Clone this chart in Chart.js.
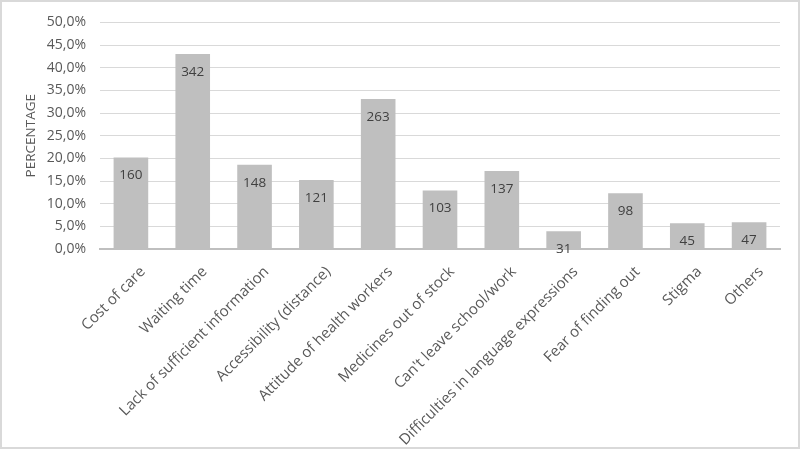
<!DOCTYPE html>
<html lang="en">
<head>
  <meta charset="UTF-8" />
  <title>Reasons</title>
  <script src="https://cdn.jsdelivr.net/npm/chart.js"></script>
  <style>
    * { margin: 0; padding: 0; box-sizing: border-box; }
    body { background: #ffffff; width: 800px; height: 449px; overflow: hidden; }
    .wrap { position: relative; width: 800px; height: 449px; }
  </style>
</head>
<body>
  <div class="wrap"><canvas id="barChart"></canvas></div>
  <script>
    const categories = [
      'Cost of care', 'Waiting time', 'Lack of sufficient information',
      'Accessibility (distance)', 'Attitude of health workers',
      'Medicines out of stock', "Can't leave school/work",
      'Difficulties in language expressions', 'Fear of finding out',
      'Stigma', 'Others'
    ];
    const percentages = [20.2, 43.0, 18.6, 15.2, 33.1, 12.9, 17.2, 3.9, 12.3, 5.7, 5.9];
    const counts = [160, 342, 148, 121, 263, 103, 137, 31, 98, 45, 47];
    const yTicks = [0, 5, 10, 15, 20, 25, 30, 35, 40, 45, 50];

    const FONT = "'Open Sans', sans-serif";

    // numbers drawn just under the top of each bar
    const countLabels = {
      id: 'countLabels',
      afterDatasetsDraw(chart) {
        const ctx = chart.ctx;
        const meta = chart.getDatasetMeta(0);
        ctx.save();
        ctx.font = '13.5px ' + FONT;
        ctx.fillStyle = '#404040';
        ctx.textAlign = 'center';
        ctx.textBaseline = 'middle';
        meta.data.forEach((bar, i) => {
          ctx.fillText(counts[i], bar.x, bar.y + 18);
        });
        ctx.restore();
      }
    };

    const frame = {
      id: 'frame',
      afterDraw(chart) {
        const ctx = chart.ctx;
        ctx.save();
        ctx.strokeStyle = '#d9d9d9';
        ctx.lineWidth = 2;
        ctx.strokeRect(1, 1, chart.width - 2, chart.height - 2);
        ctx.restore();
      }
    };

    new Chart(document.getElementById('barChart'), {
      type: 'bar',
      data: {
        labels: categories,
        datasets: [{
          data: percentages,
          backgroundColor: '#bfbfbf',
          borderWidth: 0,
          barPercentage: 0.56,
          categoryPercentage: 1
        }]
      },
      options: {
        responsive: true,
        maintainAspectRatio: false,
        animation: false,
        layout: { padding: { top: 19, right: 20, bottom: 0, left: 0 } },
        plugins: {
          legend: { display: false },
          tooltip: { enabled: false }
        },
        scales: {
          x: {
            grid: { display: false },
            border: { color: '#bfbfbf', width: 2 },
            ticks: {
              color: '#595959',
              font: { family: FONT, size: 15 },
              minRotation: 45,
              maxRotation: 45,
              autoSkip: false,
              padding: 6,
              labelOffset: 12
            },
            afterFit(scale) { scale.height = 200; }
          },
          y: {
            min: 0,
            max: 50,
            afterBuildTicks(scale) { scale.ticks = yTicks.map(v => ({ value: v })); },
            grid: { color: '#d9d9d9', lineWidth: 1, drawTicks: false },
            border: { display: false },
            ticks: {
              color: '#595959',
              font: { family: FONT, size: 14 },
              padding: 14,
              callback: v => v.toFixed(1).replace('.', ',') + '%'
            },
            title: {
              display: true,
              text: 'PERCENTAGE',
              color: '#595959',
              font: { family: FONT, size: 13.5 },
              padding: { top: 23, bottom: 0 }
            },
            afterFit(scale) { scale.width = 100; }
          }
        }
      },
      plugins: [countLabels, frame]
    });
  </script>
</body>
</html>
